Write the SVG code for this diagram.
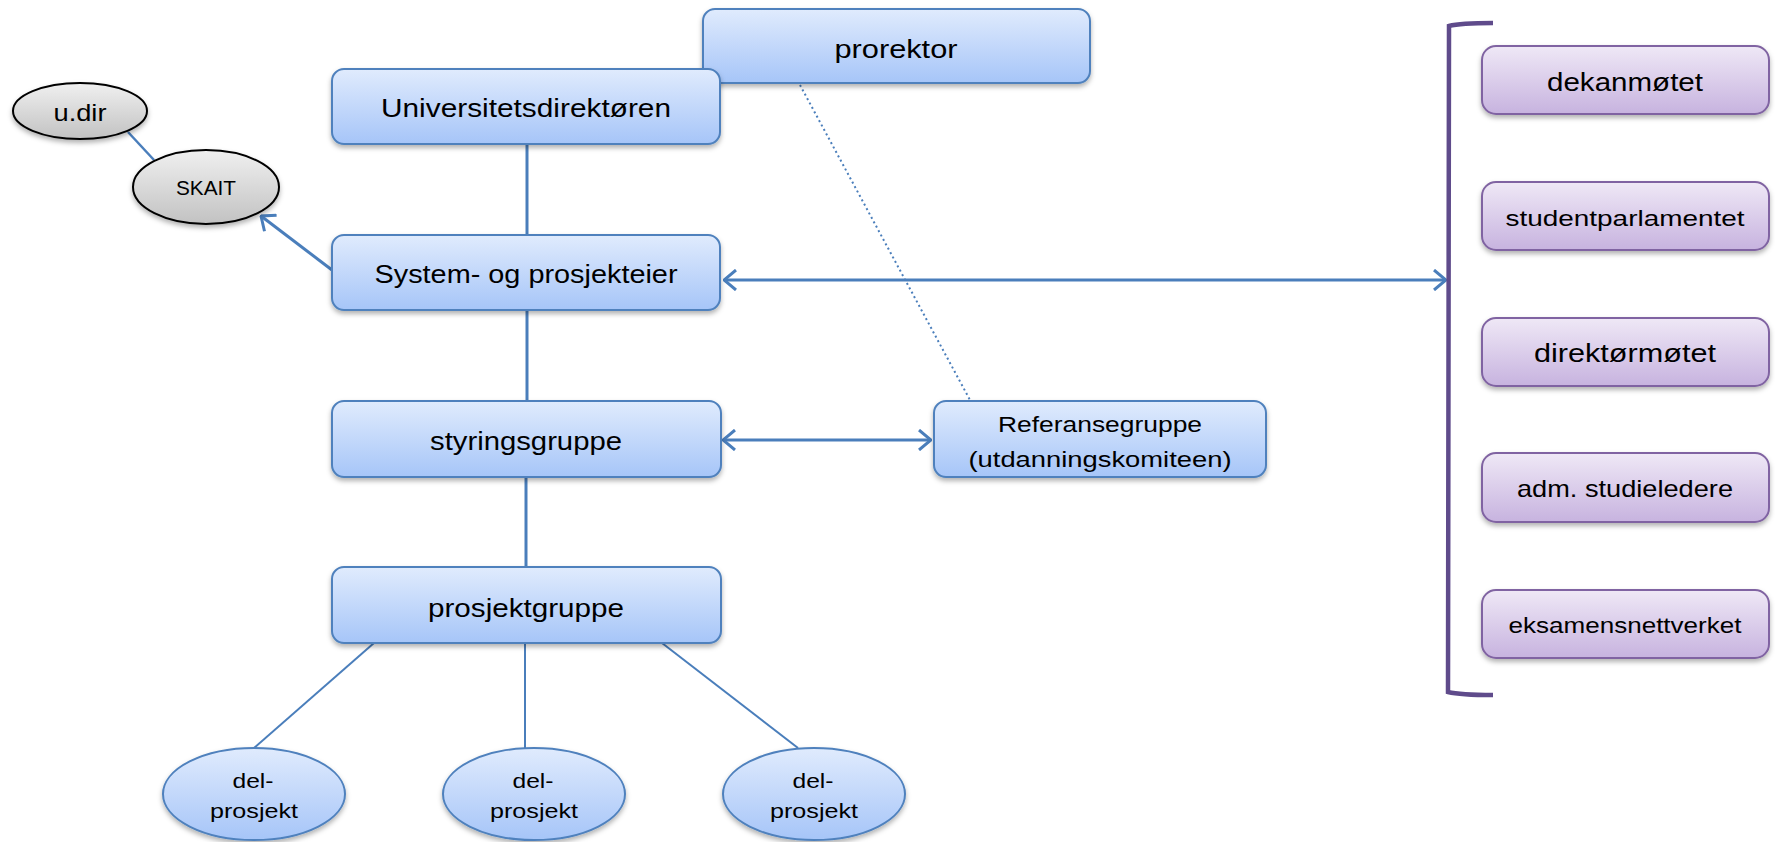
<svg xmlns="http://www.w3.org/2000/svg" width="1775" height="842" viewBox="0 0 1775 842">
<defs>
<linearGradient id="gBlue" x1="0" y1="0" x2="0" y2="1"><stop offset="0" stop-color="#e0ebfd"/><stop offset="1" stop-color="#a6c5f8"/></linearGradient>
<linearGradient id="gPurple" x1="0" y1="0" x2="0" y2="1"><stop offset="0" stop-color="#efe8f6"/><stop offset="1" stop-color="#c7b3df"/></linearGradient>
<linearGradient id="gGray" x1="0" y1="0" x2="0" y2="1"><stop offset="0" stop-color="#f0f0f0"/><stop offset="1" stop-color="#c2c2c2"/></linearGradient>
<filter id="sh" x="-10%" y="-10%" width="120%" height="140%"><feDropShadow dx="0" dy="3" stdDeviation="2.5" flood-color="#000" flood-opacity="0.3"/></filter>
<marker id="arr" viewBox="0 0 14 22" refX="13" refY="11" markerWidth="14" markerHeight="22" markerUnits="userSpaceOnUse" orient="auto-start-reverse"><path d="M1,1 L13,11 L1,21" fill="none" stroke="#4a7ebb" stroke-width="3"/></marker>
</defs>
<style>
.bx{fill:url(#gBlue);stroke:#4f81bd;stroke-width:2;filter:url(#sh)}
.px{fill:url(#gPurple);stroke:#8064a2;stroke-width:2;filter:url(#sh)}
.gx{fill:url(#gGray);stroke:#000;stroke-width:2;filter:url(#sh)}
.be{fill:url(#gBlue);stroke:#4f81bd;stroke-width:2;filter:url(#sh)}
.t{font-family:"Liberation Sans",Arial,sans-serif;fill:#000;text-anchor:middle}
.c{stroke:#4a7ebb;fill:none}
</style>
<g id="connectors">
<line class="c" x1="527" y1="144" x2="527" y2="235" stroke-width="3"/>
<line class="c" x1="527" y1="310" x2="527" y2="401" stroke-width="3"/>
<line class="c" x1="526" y1="477" x2="526" y2="567" stroke-width="3"/>
<line class="c" x1="128" y1="132" x2="154" y2="160" stroke-width="2.5"/>
<line class="c" x1="332" y1="270" x2="261" y2="216" stroke-width="3" marker-end="url(#arr)"/>
<line class="c" x1="724" y1="280" x2="1446" y2="280" stroke-width="3" marker-start="url(#arr)" marker-end="url(#arr)"/>
<line class="c" x1="723" y1="440" x2="931" y2="440" stroke-width="3" marker-start="url(#arr)" marker-end="url(#arr)"/>
<line class="c" x1="800" y1="85" x2="970" y2="400" stroke-width="2" stroke-dasharray="2,3"/>
<line class="c" x1="374" y1="643" x2="254" y2="748" stroke-width="2"/>
<line class="c" x1="525" y1="643" x2="525" y2="748" stroke-width="2"/>
<line class="c" x1="662" y1="643" x2="798" y2="748" stroke-width="2"/>
<path d="M1493,23 Q1460,23 1449,26 L1448,692 Q1460,695 1493,695" fill="none" stroke="#5f4b8b" stroke-width="4.5"/>
</g>
<g id="prorektor"><rect class="bx" x="703" y="9" width="387" height="74" rx="12"/><text class="t" x="896" y="58" font-size="26" textLength="123" lengthAdjust="spacingAndGlyphs">prorektor</text></g>
<g id="universitetsdirektoren"><rect class="bx" x="332" y="69" width="388" height="75" rx="12"/><text class="t" x="526" y="117" font-size="26" textLength="290" lengthAdjust="spacingAndGlyphs">Universitetsdirektøren</text></g>
<g id="system"><rect class="bx" x="332" y="235" width="388" height="75" rx="12"/><text class="t" x="526" y="283" font-size="26" textLength="303" lengthAdjust="spacingAndGlyphs">System- og prosjekteier</text></g>
<g id="styringsgruppe"><rect class="bx" x="332" y="401" width="389" height="76" rx="12"/><text class="t" x="526" y="450" font-size="26" textLength="192" lengthAdjust="spacingAndGlyphs">styringsgruppe</text></g>
<g id="referansegruppe"><rect class="bx" x="934" y="401" width="332" height="76" rx="12"/><text class="t" x="1100" y="432" font-size="22" textLength="204" lengthAdjust="spacingAndGlyphs">Referansegruppe</text><text class="t" x="1100" y="467" font-size="22" textLength="263" lengthAdjust="spacingAndGlyphs">(utdanningskomiteen)</text></g>
<g id="prosjektgruppe"><rect class="bx" x="332" y="567" width="389" height="76" rx="12"/><text class="t" x="526" y="617" font-size="26" textLength="196" lengthAdjust="spacingAndGlyphs">prosjektgruppe</text></g>
<g id="udir"><ellipse class="gx" cx="80" cy="111" rx="67" ry="28"/><text class="t" x="80" y="121" font-size="24" textLength="53" lengthAdjust="spacingAndGlyphs">u.dir</text></g>
<g id="skait"><ellipse class="gx" cx="206" cy="187" rx="73" ry="37"/><text class="t" x="206" y="195" font-size="20" textLength="60" lengthAdjust="spacingAndGlyphs">SKAIT</text></g>
<g id="delprosjekt1"><ellipse class="be" cx="254" cy="794" rx="91" ry="46"/><text class="t" x="253" y="788" font-size="21" textLength="41" lengthAdjust="spacingAndGlyphs">del-</text><text class="t" x="254" y="818" font-size="21" textLength="88" lengthAdjust="spacingAndGlyphs">prosjekt</text></g>
<g id="delprosjekt2"><ellipse class="be" cx="534" cy="794" rx="91" ry="46"/><text class="t" x="533" y="788" font-size="21" textLength="41" lengthAdjust="spacingAndGlyphs">del-</text><text class="t" x="534" y="818" font-size="21" textLength="88" lengthAdjust="spacingAndGlyphs">prosjekt</text></g>
<g id="delprosjekt3"><ellipse class="be" cx="814" cy="794" rx="91" ry="46"/><text class="t" x="813" y="788" font-size="21" textLength="41" lengthAdjust="spacingAndGlyphs">del-</text><text class="t" x="814" y="818" font-size="21" textLength="88" lengthAdjust="spacingAndGlyphs">prosjekt</text></g>
<g id="dekanmotet"><rect class="px" x="1482" y="46" width="287" height="68" rx="14"/><text class="t" x="1625" y="91" font-size="26" textLength="156" lengthAdjust="spacingAndGlyphs">dekanmøtet</text></g>
<g id="studentparlamentet"><rect class="px" x="1482" y="182" width="287" height="68" rx="14"/><text class="t" x="1625" y="226" font-size="22" textLength="239" lengthAdjust="spacingAndGlyphs">studentparlamentet</text></g>
<g id="direktormotet"><rect class="px" x="1482" y="318" width="287" height="68" rx="14"/><text class="t" x="1625" y="362" font-size="26" textLength="182" lengthAdjust="spacingAndGlyphs">direktørmøtet</text></g>
<g id="admstudieledere"><rect class="px" x="1482" y="453" width="287" height="69" rx="14"/><text class="t" x="1625" y="497" font-size="24" textLength="216" lengthAdjust="spacingAndGlyphs">adm. studieledere</text></g>
<g id="eksamensnettverket"><rect class="px" x="1482" y="590" width="287" height="68" rx="14"/><text class="t" x="1625" y="633" font-size="22" textLength="233" lengthAdjust="spacingAndGlyphs">eksamensnettverket</text></g>
</svg>
